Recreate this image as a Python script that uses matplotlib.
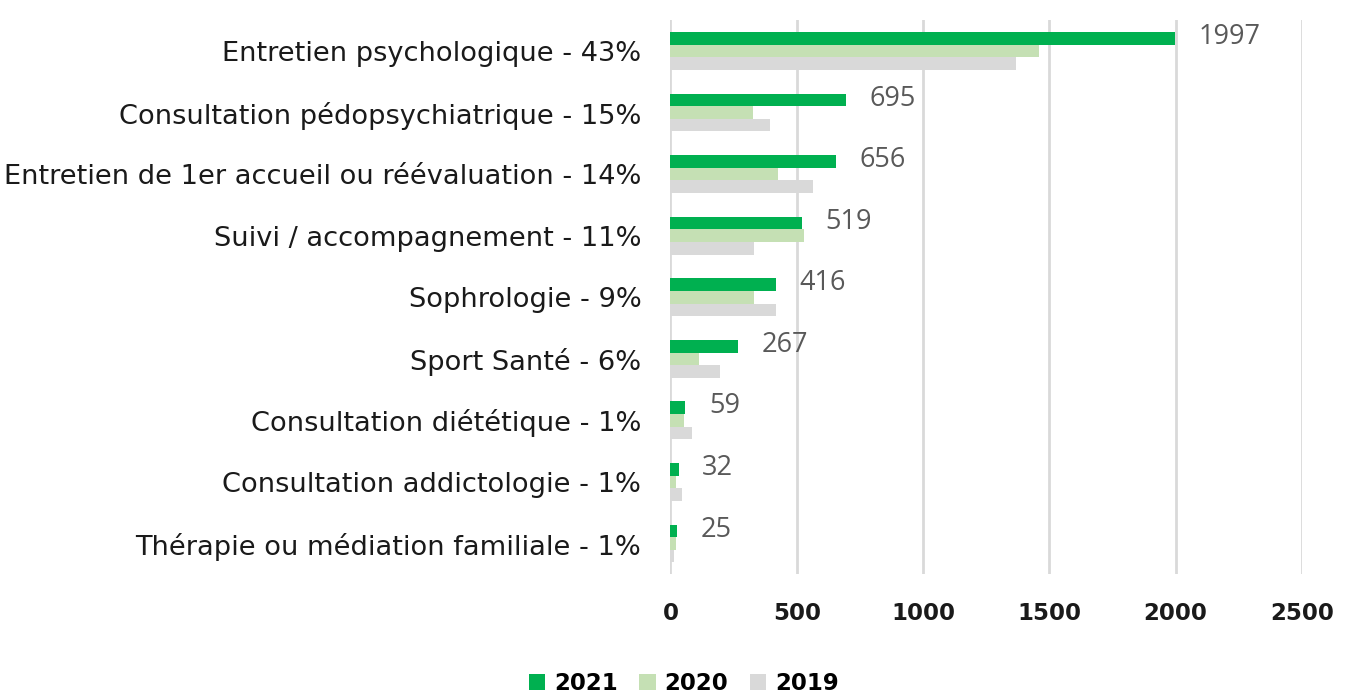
import matplotlib.pyplot as plt
import numpy as np

# Data
categories = [
    "Entretien psychologique - 43%",
    "Consultation pédopsychiatrique - 15%",
    "Entretien de 1er accueil ou réévaluation - 14%",
    "Suivi / accompagnement - 11%",
    "Sophrologie - 9%",
    "Sport Santé - 6%",
    "Consultation diététique - 1%",
    "Consultation addictologie - 1%",
    "Thérapie ou médiation familiale - 1%",
]
values_2021 = [1997, 695, 656, 519, 416, 267, 59, 32, 25]
values_2020 = [1460, 326, 424, 530, 332, 114, 55, 20, 22]
values_2019 = [1370, 396, 565, 329, 419, 196, 84, 45, 16]
series_labels = ["2021", "2020", "2019"]

colors = ["#00B050", "#C5E0B4", "#D9D9D9"]

fig = plt.figure(figsize=(13.49, 6.97), dpi=100)
ax = fig.add_axes([0.497, 0.176, 0.468, 0.795])

y = np.arange(len(categories))
h = 0.205

ax.barh(y - h, values_2021, height=h, color=colors[0], label=series_labels[0], zorder=3)
ax.barh(y, values_2020, height=h, color=colors[1], label=series_labels[1], zorder=3)
ax.barh(y + h, values_2019, height=h, color=colors[2], label=series_labels[2], zorder=3)

# value labels for 2021
for yi, v in zip(y, values_2021):
    ax.annotate(str(v), (v, yi - h), xytext=(17, 1), textcoords="offset points",
                va="center", ha="left", fontsize=19.5, color="#595959",
                family="Open Sans")

ax.set_xlim(0, 2500)
ax.set_ylim(len(categories) - 0.5, -0.5)
ax.set_xticks(np.arange(0, 2501, 500))
ax.set_yticks(y)
ax.set_yticklabels(categories, fontsize=19.6, color="#1a1a1a")
for lbl in ax.get_xticklabels():
    lbl.set_fontsize(16.5)
    lbl.set_fontweight("bold")
    lbl.set_color("#1a1a1a")

ax.grid(axis="x", color="#D9D9D9", linewidth=2, zorder=0)
ax.tick_params(axis="both", length=0)
ax.tick_params(axis="x", pad=20)
ax.tick_params(axis="y", pad=21)
for s in ax.spines.values():
    s.set_visible(False)

leg = fig.legend(loc="center", bbox_to_anchor=(0.507, 0.02), ncol=3, frameon=False,
                 handlelength=0.7, handleheight=0.7, handletextpad=0.4, columnspacing=0.95,
                 prop={"size": 16.5, "weight": "bold"})

fig.savefig("out.png", dpi=100)
